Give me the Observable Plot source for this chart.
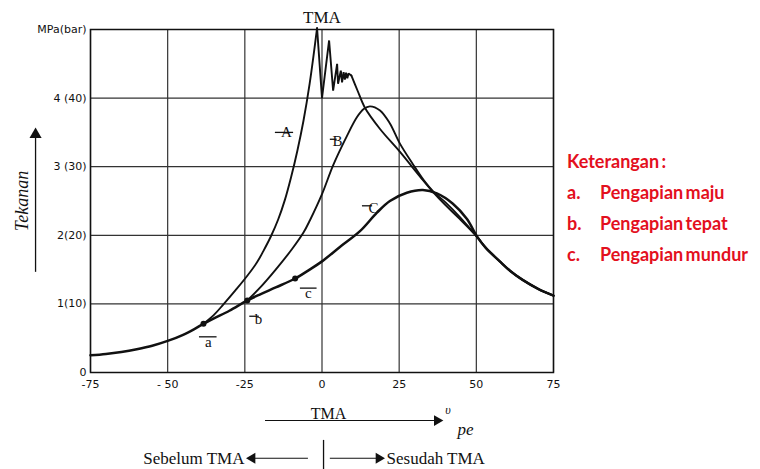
<!DOCTYPE html>
<html>
<head>
<meta charset="utf-8">
<script src="https://cdn.jsdelivr.net/npm/d3@7"></script>
<script src="https://cdn.jsdelivr.net/npm/@observablehq/plot@0.6"></script>
<style>
  html, body { margin: 0; padding: 0; background: #fff; }
  #wrap { position: relative; width: 760px; height: 469px; overflow: hidden; background: #fff; }
  #legend { position: absolute; left: 567px; top: 146px; font-family: Lato, "Open Sans", sans-serif; font-weight: 700; font-size: 18px; line-height: 31px; color: #e3101e; word-spacing: -2px; }
  #legend .row { white-space: nowrap; }
  #legend .k { display: inline-block; width: 33px; word-spacing: 0; }
</style>
</head>
<body>
<div id="wrap"><div id="legend"></div></div>
<script>
// ---- axes ----
const ticksX = [-75, -50, -25, 0, 25, 50, 75];
const labelsX = ["-75", "- 50", "-25", "0", "25", "50", "75"];
const ticksY = [0, 1, 2, 3, 4, 5];
const labelsY = ["0", "1(10)", "2(20)", "3 (30)", "4 (40)", "MPa(bar)"];

// ---- curves (crank angle, pressure MPa) ----
const tail = [[53, 1.82], [57.6, 1.62], [61, 1.48], [65, 1.35], [70, 1.22], [75, 1.12]];
const curveC = [[-75, 0.25], [-70, 0.27], [-65, 0.3], [-60, 0.34], [-55, 0.39], [-50, 0.46], [-45, 0.55], [-41.5, 0.63], [-38.4, 0.71], [-35, 0.79], [-30, 0.9], [-24.2, 1.05], [-20, 1.14], [-15, 1.24], [-8.7, 1.37], [-4, 1.5], [0, 1.62], [5.8, 1.83], [12.3, 2.06], [17.8, 2.33], [22, 2.5], [27.5, 2.62], [32.7, 2.66], [37.2, 2.61], [42.4, 2.46], [46.9, 2.24], [50.4, 1.97]];
const curveARise = [[-38.4, 0.71], [-35, 0.84], [-32, 0.99], [-28, 1.2], [-24.2, 1.41], [-21, 1.61], [-19, 1.77], [-16.5, 1.99], [-14.2, 2.23], [-12, 2.52], [-10, 2.85], [-8, 3.23], [-6, 3.67], [-4, 4.21], [-1.6, 5.02]];
const curveAPeak = [[-1.6, 5.02], [0, 4.0], [2.3, 4.84], [3.6, 4.11], [4.9, 4.5], [5.2, 4.21], [6.1, 4.4], [6.5, 4.23], [7, 4.38], [7.4, 4.27], [7.8, 4.37], [8.2, 4.29], [8.6, 4.36], [9.5, 4.33]];
const curveAFall = [[9.5, 4.33], [11.6, 4.1], [13.9, 3.86], [18.8, 3.55], [25.2, 3.22], [31.7, 2.86], [36, 2.63], [40, 2.44], [44.6, 2.24], [50.4, 1.97]];
const curveB = [[-24.2, 1.05], [-20, 1.24], [-15, 1.5], [-9.7, 1.8], [-6, 2.04], [-3.9, 2.22], [0, 2.6], [3.6, 3.02], [8.1, 3.45], [11.3, 3.72], [13.5, 3.84], [15.5, 3.88], [18.8, 3.82], [22, 3.63], [25.2, 3.34], [29.4, 3.04], [33, 2.8], [36, 2.64], [40, 2.48], [44.6, 2.27], [50.4, 1.97]];

// ---- ignition points a, b, c ----
const pointNames = ["a", "b", "c"];
const pointX = [-38.4, -24.2, -8.7];
const pointY = [0.71, 1.05, 1.37];

// ---- legend ----
const legendTitle = "Keterangan :";
const legendKeys = ["a.", "b.", "c."];
const legendItems = ["Pengapian maju", "Pengapian tepat", "Pengapian mundur"];

const px = d => d[0], py = d => d[1];
const ink = "#111";
const serif = "Liberation Serif, Times New Roman, serif";
const sans = "DejaVu Sans, sans-serif";

const points = pointNames.map((n, i) => ({n, x: pointX[i], y: pointY[i]}));

// annotation positions (labels, leader dashes)
const curveLabels = [
  {t: "A", x: -11.5, y: 3.5}, {t: "B", x: 5.0, y: 3.37}, {t: "C", x: 16.7, y: 2.39},
  {t: "a", x: -36.8, y: 0.44}, {t: "b", x: -20.6, y: 0.77}, {t: "c", x: -4.4, y: 1.15}
];
const dashes = [
  {x1: -15.1, x2: -9.2, y: 3.5}, {x1: 2.7, x2: 4.9, y: 3.4}, {x1: 13.1, x2: 16.4, y: 2.43},
  {x1: -39.7, x2: -34.0, y: 0.52}, {x1: -23.4, x2: -20.3, y: 0.82}, {x1: -7.0, x2: -1.6, y: 1.23}
];

const chart = Plot.plot({
  width: 760,
  height: 469,
  marginLeft: 90,
  marginRight: 207,
  marginTop: 29,
  marginBottom: 97,
  x: {domain: [-75, 75]},
  y: {domain: [0, 5]},
  style: {background: "transparent", color: ink},
  marks: [
    Plot.gridX(ticksX, {stroke: "#333", strokeOpacity: 1, strokeWidth: 1.2}),
    Plot.gridY(ticksY, {stroke: "#333", strokeOpacity: 1, strokeWidth: 1.2}),
    Plot.frame({stroke: ink, strokeWidth: 1.5}),
    Plot.axisX(ticksX, {tickSize: 0, tickPadding: 8, fontSize: 11, fontFamily: sans, tickFormat: d => labelsX[ticksX.indexOf(d)], label: null}),
    Plot.axisY(ticksY, {tickSize: 0, tickPadding: 4, fontSize: 11, fontFamily: sans, tickFormat: d => labelsY[ticksY.indexOf(d)], label: null}),

    Plot.line(curveC.concat(tail), {x: px, y: py, curve: "catmull-rom", stroke: ink, strokeWidth: 2.5}),
    Plot.line(curveARise, {x: px, y: py, curve: "catmull-rom", stroke: ink, strokeWidth: 1.9}),
    Plot.line(curveAPeak, {x: px, y: py, curve: "linear", stroke: ink, strokeWidth: 1.9, strokeLinejoin: "miter"}),
    Plot.line(curveAFall.concat(tail), {x: px, y: py, curve: "catmull-rom", stroke: ink, strokeWidth: 1.9}),
    Plot.line(curveB.concat(tail), {x: px, y: py, curve: "catmull-rom", stroke: ink, strokeWidth: 1.9}),
    Plot.dot(points, {x: "x", y: "y", r: 3, fill: ink}),

    Plot.ruleY(dashes, {x1: "x1", x2: "x2", y: "y", stroke: ink, strokeWidth: 1.3}),
    Plot.text(curveLabels, {x: "x", y: "y", text: "t", fontFamily: serif, fontSize: 15, fill: ink}),

    // top TMA label
    Plot.text(["TMA"], {x: 0, y: 5.17, fontFamily: serif, fontSize: 17, fill: ink}),

    // y-axis title with arrow
    Plot.text(["Tekanan"], {x: -97, y: 2.5, rotate: -90, fontFamily: serif, fontStyle: "italic", fontSize: 18, fill: ink}),
    Plot.ruleX([-92.8], {y1: 1.46, y2: 3.45, stroke: ink, strokeWidth: 1.3}),
    Plot.dot([[-92.8, 3.47]], {x: px, y: py, symbol: "triangle", r: 4.5, fill: ink, stroke: null}),

    // bottom crank-angle annotation
    Plot.text(["TMA"], {x: 2.1, y: -0.61, fontFamily: serif, fontSize: 16, fill: ink}),
    Plot.ruleY([-0.70], {x1: -18.3, x2: 37.0, stroke: ink, strokeWidth: 1.2}),
    Plot.dot([[37.3, -0.70]], {x: px, y: py, symbol: "triangle", rotate: 90, r: 4, fill: ink, stroke: null}),
    Plot.text(["υ"], {x: 40.8, y: -0.55, fontFamily: serif, fontStyle: "italic", fontSize: 12, fill: ink}),
    Plot.text(["pe"], {x: 46.5, y: -0.83, fontFamily: serif, fontStyle: "italic", fontSize: 17, fill: ink}),

    Plot.ruleX([0.5], {y1: -0.99, y2: -1.45, stroke: ink, strokeWidth: 1.3}),
    Plot.text(["Sebelum TMA"], {x: -25.1, y: -1.25, textAnchor: "end", fontFamily: serif, fontSize: 17, fill: ink}),
    Plot.ruleY([-1.25], {x1: -22.5, x2: -4.4, stroke: ink, strokeWidth: 1.2}),
    Plot.dot([[-22.6, -1.25]], {x: px, y: py, symbol: "triangle", rotate: -90, r: 4, fill: ink, stroke: null}),
    Plot.ruleY([-1.25], {x1: 2.7, x2: 18.3, stroke: ink, strokeWidth: 1.2}),
    Plot.dot([[18.4, -1.25]], {x: px, y: py, symbol: "triangle", rotate: 90, r: 4, fill: ink, stroke: null}),
    Plot.text(["Sesudah TMA"], {x: 20.9, y: -1.25, textAnchor: "start", fontFamily: serif, fontSize: 17, fill: ink})
  ]
});

const wrap = document.getElementById("wrap");
wrap.insertBefore(chart, wrap.firstChild);

const legend = document.getElementById("legend");
const head = document.createElement("div");
head.className = "row";
head.textContent = legendTitle;
legend.appendChild(head);
legendItems.forEach((item, i) => {
  const row = document.createElement("div");
  row.className = "row";
  const k = document.createElement("span");
  k.className = "k";
  k.textContent = legendKeys[i];
  row.appendChild(k);
  row.appendChild(document.createTextNode(item));
  legend.appendChild(row);
});
</script>
</body>
</html>
